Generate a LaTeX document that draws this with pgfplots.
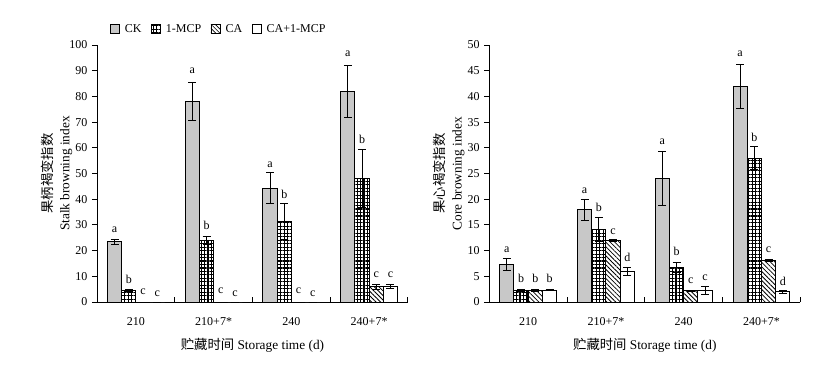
\documentclass[border=0pt]{standalone}
\usepackage{fontspec}
\setmainfont{Liberation Serif}
\newfontfamily\cjk{Noto Sans CJK SC}
\usepackage{pgfplots}
\pgfplotsset{compat=1.18}
\usetikzlibrary{patterns.meta}
\definecolor{cgray}{RGB}{200,200,200}
\newcommand\fs{\fontsize{9}{12.5}\selectfont}
\newcommand\fl{\fontsize{10}{12.75}\selectfont}
\tikzset{lab/.style={font=\fs, anchor=south, inner sep=0pt}}
\pgfplotsset{
  errs/.style={error bars/y dir=both, error bars/y explicit,
    error bars/error bar style={line width=0.75pt, black, solid},
    error bars/error mark options={rotate=90, mark size=3pt, line width=0.75pt, black}},
  ck/.style={ybar, bar width=0.183, bar shift=0pt, fill=cgray, draw=black, line width=0.75pt, errs},
  mcp/.style={ybar, bar width=0.183, bar shift=0pt, draw=black, line width=0.75pt,
    pattern={Hatch[angle=0,distance=2.6pt,line width=0.85pt]}, errs},
  ca/.style={ybar, bar width=0.183, bar shift=0pt, draw=black, line width=0.75pt,
    pattern={Lines[angle=-45,distance=2.4pt,line width=0.6pt]}, errs},
  camcp/.style={ybar, bar width=0.183, bar shift=0pt, fill=white, draw=black, line width=0.75pt, errs},
  base/.style={
    scale only axis, width=233.25pt, height=192.75pt,
    anchor=south west,
    xmin=-0.5, xmax=3.5, ymin=0,
    axis x line=bottom, axis y line=left,
    axis line style={-, line width=0.75pt},
    tick style={line width=0.75pt, black},
    tick align=outside, major tick length=3.75pt,
    xtick={0.5,1.5,2.5,3.5}, xticklabels={},
    xtick style={yshift=3.75pt},
    extra x ticks={0,1,2,3}, extra x tick labels={210,210+7*,240,240+7*},
    extra x tick style={xtick style={draw=none}},
    xticklabel style={font=\fs, yshift=-4.5pt},
    yticklabel style={font=\fs},
    /pgf/number format/assume math mode=true,
    ylabel style={font=\fl, align=center, at={(axis description cs:-0.13,0.5)}, anchor=center},
    xlabel style={font=\fl, at={(axis description cs:0.5,-0.167)}, anchor=center},
    clip=false,
  },
}
\begin{document}
\begin{tikzpicture}
\useasboundingbox (0,0) rectangle (619.5pt,273.75pt);
\begin{axis}[base, at={(72.75pt,47.25pt)}, ymax=100, ytick={0,10,...,100},
  ylabel={{\cjk 果柄褐变指数}\\Stalk browning index},
  xlabel={{\cjk 贮藏时间} Storage time (d)},
  legend style={draw=none, fill=none, at={(axis description cs:0.04,1.062)}, anchor=west,
    legend columns=-1, font=\fs, inner sep=0pt,
    /tikz/every odd column/.style={column sep=1.5pt},
    /tikz/every even column/.style={column sep=5pt}}]
\addlegendimage{legend image code/.code={\draw[fill=cgray,line width=0.6pt] (0pt,-3.5pt) rectangle (7.2pt,3.7pt);}}
\addlegendentry{CK}
\addlegendimage{legend image code/.code={\draw[line width=0.6pt,pattern={Hatch[angle=0,distance=2.4pt,line width=0.7pt]}] (0pt,-3.5pt) rectangle (7.2pt,3.7pt);}}
\addlegendentry{1-MCP}
\addlegendimage{legend image code/.code={\draw[line width=0.6pt,pattern={Lines[angle=-45,distance=2.2pt,line width=0.5pt]}] (0pt,-3.5pt) rectangle (7.2pt,3.7pt);}}
\addlegendentry{CA}
\addlegendimage{legend image code/.code={\draw[fill=white,line width=0.6pt] (0pt,-3.5pt) rectangle (7.2pt,3.7pt);}}
\addlegendentry{CA+1-MCP}
\addplot[ck, forget plot] coordinates {(-0.2745,23.5) +- (0,1.0) (0.7255,78) +- (0,7.3) (1.7255,44.3) +- (0,6.0) (2.7255,82) +- (0,10.2)};
\addplot[mcp, forget plot] coordinates {(-0.0915,4.5) +- (0,0.3) (0.9085,24) +- (0,1.5) (1.9085,31.2) +- (0,7.0) (2.9085,48) +- (0,11.2)};
\addplot[ca, forget plot] coordinates {(0.0915,0) +- (0,0) (1.0915,0) +- (0,0) (2.0915,0) +- (0,0) (3.0915,6.0) +- (0,1.0)};
\addplot[camcp, forget plot] coordinates {(0.2745,0) +- (0,0) (1.2745,0) +- (0,0) (2.2745,0) +- (0,0) (3.2745,6.2) +- (0,0.8)};
\node[lab] at (axis cs:-0.2745,27.0) {a};
\node[lab] at (axis cs:-0.0915,7.0) {b};
\node[lab] at (axis cs:0.0915,2.9) {c};
\node[lab] at (axis cs:0.2745,1.9) {c};
\node[lab] at (axis cs:0.7255,88.9) {a};
\node[lab] at (axis cs:0.9085,28.0) {b};
\node[lab] at (axis cs:1.0915,3.1) {c};
\node[lab] at (axis cs:1.2745,2.1) {c};
\node[lab] at (axis cs:1.7255,52.3) {a};
\node[lab] at (axis cs:1.9085,40.3) {b};
\node[lab] at (axis cs:2.0915,3.1) {c};
\node[lab] at (axis cs:2.2745,2.1) {c};
\node[lab] at (axis cs:2.7255,95.3) {a};
\node[lab] at (axis cs:2.9085,61.7) {b};
\node[lab] at (axis cs:3.0915,9.5) {c};
\node[lab] at (axis cs:3.2745,9.5) {c};
\end{axis}
\begin{axis}[base, at={(367pt,47.25pt)}, ymax=50, ytick={0,5,...,50},
  ylabel={{\cjk 果心褐变指数}\\Core browning index},
  xlabel={{\cjk 贮藏时间} Storage time (d)}]
\addplot[ck] coordinates {(-0.2745,7.3) +- (0,1.2) (0.7255,17.9) +- (0,2.0) (1.7255,24) +- (0,5.2) (2.7255,42) +- (0,4.3)};
\addplot[mcp] coordinates {(-0.0915,2.3) +- (0,0.2) (0.9085,14.1) +- (0,2.3) (1.9085,6.7) +- (0,1.0) (2.9085,28) +- (0,2.2)};
\addplot[ca] coordinates {(0.0915,2.3) +- (0,0.2) (1.0915,12) +- (0,0.15) (2.0915,2.2) +- (0,0.1) (3.0915,8.1) +- (0,0.2)};
\addplot[camcp] coordinates {(0.2745,2.3) +- (0,0.1) (1.2745,6) +- (0,0.8) (2.2745,2.3) +- (0,0.8) (3.2745,2.0) +- (0,0.3)};
\node[lab] at (axis cs:-0.2745,9.5) {a};
\node[lab] at (axis cs:-0.0915,3.7) {b};
\node[lab] at (axis cs:0.0915,3.7) {b};
\node[lab] at (axis cs:0.2745,3.7) {b};
\node[lab] at (axis cs:0.7255,21.1) {a};
\node[lab] at (axis cs:0.9085,17.5) {b};
\node[lab] at (axis cs:1.0915,13.1) {c};
\node[lab] at (axis cs:1.2745,7.9) {d};
\node[lab] at (axis cs:1.7255,30.6) {a};
\node[lab] at (axis cs:1.9085,9.0) {b};
\node[lab] at (axis cs:2.0915,3.6) {c};
\node[lab] at (axis cs:2.2745,4.2) {c};
\node[lab] at (axis cs:2.7255,47.7) {a};
\node[lab] at (axis cs:2.9085,31.2) {b};
\node[lab] at (axis cs:3.0915,9.6) {c};
\node[lab] at (axis cs:3.2745,3.2) {d};
\end{axis}
\end{tikzpicture}
\end{document}
